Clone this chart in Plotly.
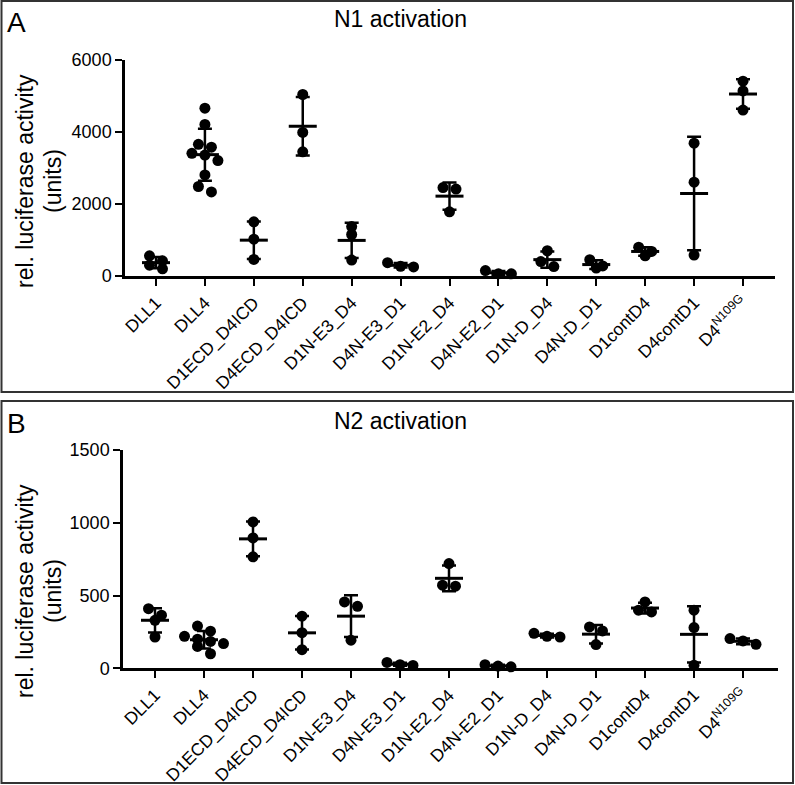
import numpy as np
import plotly.graph_objects as go

# ---------------- data ----------------
categories = ["DLL1", "DLL4", "D1ECD_D4ICD", "D4ECD_D4ICD", "D1N-E3_D4",
              "D4N-E3_D1", "D1N-E2_D4", "D4N-E2_D1", "D1N-D_D4", "D4N-D_D1",
              "D1contD4", "D4contD1", "D4<sup>N109G</sup>"]

n1_values = [
    [560, 420, 300, 200],
    [4650, 4200, 3650, 3570, 3400, 3350, 3200, 2800, 2480, 2330],
    [1500, 1020, 460],
    [5030, 3980, 3440],
    [1370, 1150, 440],
    [370, 270, 250],
    [2450, 2410, 1780],
    [150, 60, 60],
    [700, 400, 260],
    [450, 220, 280],
    [800, 560, 680],
    [3680, 2600, 580],
    [5400, 5130, 4600],
]

n2_values = [
    [410, 365, 330, 215],
    [290, 255, 220, 200, 185, 170, 150, 100],
    [1006, 896, 766],
    [358, 245, 128],
    [456, 426, 193],
    [40, 25, 20],
    [720, 564, 571],
    [25, 10, 15],
    [240, 215, 220],
    [284, 257, 163],
    [456, 387, 399],
    [399, 280, 21],
    [204, 165, 188],
]

n1_ticks = [0, 2000, 4000, 6000]
n2_ticks = [0, 500, 1000, 1500]
titles = ["N1 activation", "N2 activation"]
panel_letters = ["A", "B"]
y_title_lines = ["rel. luciferase activity", "(units)"]

# ---------------- layout helpers ----------------
W, H = 795, 785
FONT = "Liberation Sans, Arial, Helvetica, sans-serif"


def px_x(p):
    return p / W


def px_y(p):
    return 1 - p / H


def swarm(vals, px_per_val, px_per_cat, diam=11.0, spacing=13.0):
    vals = np.asarray(vals, dtype=float)
    order = np.argsort(-vals, kind="stable")
    offsets = np.zeros(len(vals))
    rows, cur, start = [], [], None
    for i in order:
        y = vals[i] * px_per_val
        if cur and (start - y) < diam * 0.7:
            cur.append(i)
        else:
            if cur:
                rows.append(cur)
            cur, start = [i], y
    if cur:
        rows.append(cur)
    for r in rows:
        k = len(r)
        for j, i in enumerate(r):
            offsets[i] = (j - (k - 1) / 2) * spacing / px_per_cat
    return offsets


panels = [
    dict(vals=n1_values, ticks=n1_ticks, xpx=(125, 775), ypx=(276, 59.5),
         cat_px=(156, 743), xa="x", ya="y", title_y=19, letter_y=23,
         ytitle_y=181),
    dict(vals=n2_values, ticks=n2_ticks, xpx=(123, 778), ypx=(668.3, 450),
         cat_px=(155, 743), xa="x2", ya="y2", title_y=421, letter_y=423,
         ytitle_y=591),
]

fig = go.Figure()
annotations = []
layout_axes = {}

for k, p in enumerate(panels):
    ymax = p["ticks"][-1]
    px_per_val = (p["ypx"][0] - p["ypx"][1]) / ymax
    px_per_cat = (p["cat_px"][1] - p["cat_px"][0]) / (len(categories) - 1)
    xr0 = -(p["cat_px"][0] - p["xpx"][0]) / px_per_cat
    xr1 = (len(categories) - 1) + (p["xpx"][1] - p["cat_px"][1]) / px_per_cat

    xs, ys = [], []
    means, sds = [], []
    for ci, vals in enumerate(p["vals"]):
        off = swarm(vals, px_per_val, px_per_cat)
        xs.extend(ci + off)
        ys.extend(vals)
        means.append(float(np.mean(vals)))
        sds.append(float(np.std(vals, ddof=1)))

    fig.add_trace(go.Scatter(
        x=xs, y=ys, mode="markers", xaxis=p["xa"], yaxis=p["ya"],
        marker=dict(size=11, color="black", line=dict(width=0)),
        cliponaxis=False, hoverinfo="y"))
    fig.add_trace(go.Scatter(
        x=list(range(len(categories))), y=means, mode="markers",
        xaxis=p["xa"], yaxis=p["ya"],
        marker=dict(symbol="line-ew", size=20, color="black",
                    line=dict(width=3, color="black")),
        error_y=dict(type="data", array=sds, visible=True, color="black",
                     thickness=2.5, width=7),
        cliponaxis=False, hoverinfo="y"))

    suffix = "" if k == 0 else "2"
    layout_axes["xaxis" + suffix] = dict(
        domain=[px_x(p["xpx"][0]), px_x(p["xpx"][1])],
        range=[xr0, xr1], anchor="y" + suffix, automargin=False,
        tickmode="array", tickvals=list(range(len(categories))),
        ticktext=categories, tickangle=-45,
        ticks="outside", ticklen=7, tickwidth=2, tickcolor="black",
        showline=True, linecolor="black", linewidth=2.5,
        showgrid=False, zeroline=False,
        tickfont=dict(family=FONT, size=17.5, color="black"))
    layout_axes["yaxis" + suffix] = dict(
        domain=[px_y(p["ypx"][0]), px_y(p["ypx"][1])],
        range=[0, ymax], anchor="x" + suffix, automargin=False,
        tickmode="array", tickvals=p["ticks"],
        ticks="outside", ticklen=7, tickwidth=2, tickcolor="black",
        showline=True, linecolor="black", linewidth=2.5,
        showgrid=False, zeroline=False,
        tickfont=dict(family=FONT, size=18, color="black"))

    annotations.append(dict(
        text=titles[k], x=px_x(400), y=px_y(p["title_y"]),
        xref="paper", yref="paper", showarrow=False,
        xanchor="center", yanchor="middle",
        font=dict(family=FONT, size=23, color="black")))
    annotations.append(dict(
        text=panel_letters[k], x=px_x(5), y=px_y(p["letter_y"]),
        xref="paper", yref="paper", showarrow=False,
        xanchor="left", yanchor="middle",
        font=dict(family=FONT, size=28, color="black")))
    for li, (line, xc) in enumerate(zip(y_title_lines, [25, 53])):
        annotations.append(dict(
            text=line, x=px_x(xc), y=px_y(p["ytitle_y"]),
            xref="paper", yref="paper", showarrow=False, textangle=-90,
            xanchor="center", yanchor="middle",
            font=dict(family=FONT, size=23, color="black")))

shapes = [
    dict(type="rect", xref="paper", yref="paper",
         x0=px_x(1.5), x1=px_x(793), y0=px_y(392), y1=px_y(1),
         line=dict(color="#333333", width=2)),
    dict(type="rect", xref="paper", yref="paper",
         x0=px_x(1.5), x1=px_x(793), y0=px_y(783), y1=px_y(401),
         line=dict(color="#333333", width=2)),
]

fig.update_layout(
    width=W, height=H, margin=dict(l=0, r=0, t=0, b=0, autoexpand=False),
    paper_bgcolor="white", plot_bgcolor="white", showlegend=False,
    annotations=annotations, shapes=shapes, **layout_axes)

fig.write_html(
    "out.html",
    config={"displayModeBar": False},
    post_script="document.body.style.margin='0';"
                "document.body.style.overflow='hidden';")
